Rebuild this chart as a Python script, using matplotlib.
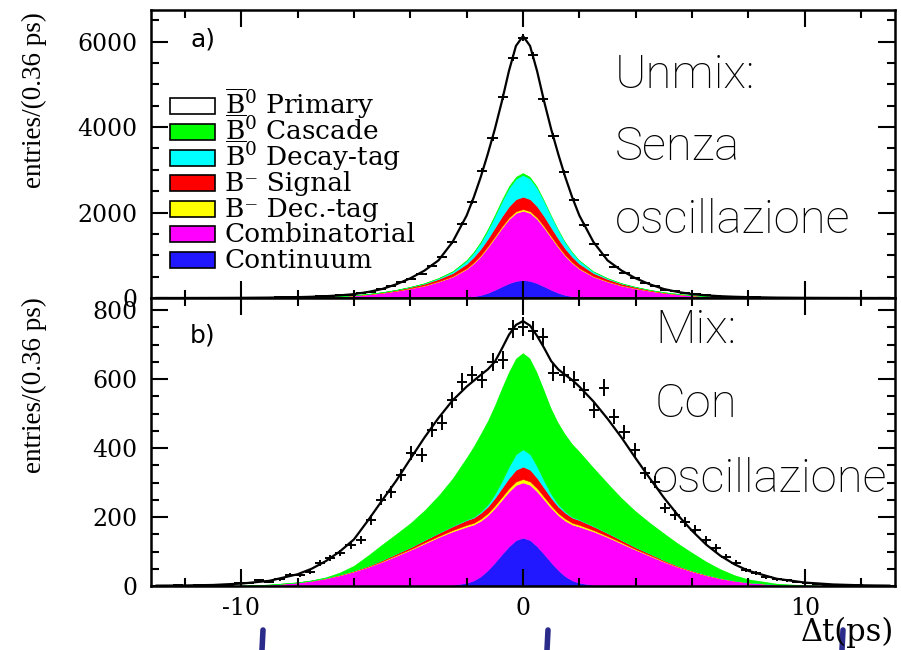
import numpy as np
import matplotlib
matplotlib.use("Agg")
import matplotlib.pyplot as plt
from matplotlib.patches import Rectangle
from matplotlib.lines import Line2D
from matplotlib.ticker import MultipleLocator

# ---------------- data ----------------
# model grid (ps)
t_model = [-13, -12, -11, -10, -9, -8, -7.5, -7, -6.5, -6, -5.5, -5, -4.5, -4, -3.5, -3, -2.5, -2,
           -1.75, -1.5, -1.25, -1, -0.75, -0.5, -0.25, 0, 0.25, 0.5, 0.75, 1, 1.25, 1.5, 1.75, 2,
           2.5, 3, 3.5, 4, 4.5, 5, 5.5, 6, 6.5, 7, 7.5, 8, 9, 10, 11, 12, 13]

# ---- panel a) Unmix ----
top_continuum = [0, 0, 0, 0, 0, 0.1, 0.2, 0.3, 0.5, 0.7, 1, 1.5, 2, 3, 5, 7, 12, 25, 40, 70, 120, 190, 270, 345, 400,
                 420,
                 400, 345, 270, 190, 120, 70, 40, 25, 12, 7, 5, 3, 2, 1.5, 1, 0.7, 0.5, 0.3, 0.2, 0.1, 0, 0, 0, 0, 0]
top_combinatorial = [0.3, 0.6, 1.3, 2.6, 5.5, 12.5, 18.5, 27, 40, 58, 85, 119, 164, 221, 284, 375, 485, 655, 775, 910, 1065, 1220, 1370, 1500, 1590,
                     1620,
                     1590, 1500, 1370, 1220, 1065, 910, 775, 655, 485, 375, 284, 221, 164, 119, 85, 58, 40, 27, 18.5, 12.5, 5.5, 2.6, 1.3, 0.6, 0.3]
top_bm_dectag = [0, 0, 0, 0, 0.1, 0.3, 0.5, 0.7, 1, 1.5, 2, 3, 4, 5, 7, 9, 12, 17, 20, 23, 27, 30, 34, 37, 39,
                 40,
                 39, 37, 34, 30, 27, 23, 20, 17, 12, 9, 7, 5, 4, 3, 2, 1.5, 1, 0.7, 0.5, 0.3, 0.1, 0, 0, 0, 0]
top_bm_signal = [0, 0, 0.1, 0.2, 0.4, 1.1, 1.7, 2.6, 4, 6, 9, 13, 19, 27, 38, 52, 72, 103, 124, 148, 175, 205, 235, 262, 283,
                 290,
                 283, 262, 235, 205, 175, 148, 124, 103, 72, 52, 38, 27, 19, 13, 9, 6, 4, 2.6, 1.7, 1.1, 0.4, 0.2, 0.1, 0, 0]
top_b0_dectag = [0, 0, 0, 0, 0, 0.1, 0.1, 0.2, 0.3, 0.5, 1, 1.5, 3, 5, 10, 19, 37, 73, 103, 145, 200, 270, 350, 430, 480,
                 510,
                 480, 430, 350, 270, 200, 145, 103, 73, 37, 19, 10, 5, 3, 1.5, 1, 0.5, 0.3, 0.2, 0.1, 0.1, 0, 0, 0, 0, 0]
top_b0_cascade = [0, 0, 0, 0, 0.1, 0.2, 0.3, 0.5, 0.7, 1, 1.5, 2, 3, 4, 6, 8, 12, 17, 20, 25, 30, 35, 41, 45, 48,
                  50,
                  48, 45, 41, 35, 30, 25, 20, 17, 12, 8, 6, 4, 3, 2, 1.5, 1, 0.7, 0.5, 0.3, 0.2, 0.1, 0, 0, 0, 0]
top_fit = [0.5, 1, 2.2, 4.5, 9, 20, 29, 42, 62, 90, 140, 210, 320, 460, 640, 880, 1310, 1930, 2350, 2830, 3370, 3950, 4600, 5310, 5900,
           6130,
           5900, 5310, 4600, 3950, 3370, 2830, 2350, 1930, 1310, 880, 640, 460, 320, 210, 140, 90, 62, 42, 29, 20, 9, 4.5, 2.2, 1, 0.5]
# data, bins of 0.36 ps, centres -12.96 ... 12.96
top_data = [0, 1, 0, 1, 2, 1, 3, 4, 4, 5, 8, 8, 14, 15, 22, 26, 39, 46, 65, 80, 115, 145, 205, 270, 370, 450, 565, 760, 970, 1300,
            1740, 2250, 2980, 3740, 4700, 5610,
            6090,
            5680, 4660, 3790, 2940, 2290, 1710, 1270, 995, 735, 580, 470, 355, 280, 195, 155, 108, 86, 60, 50, 35,
            30, 19, 18, 11, 10, 6, 7, 5, 3, 2, 2, 1, 1, 1, 0, 1]

# ---- panel b) Mix ----
bot_continuum = [0, 0, 0, 0, 0, 0, 0, 0, 0.1, 0.1, 0.2, 0.3, 0.4, 0.6, 1, 1.5, 3, 9, 16, 28, 46, 68, 92, 115, 133,
                 140,
                 133, 115, 92, 68, 46, 28, 16, 9, 3, 1.5, 1, 0.6, 0.4, 0.3, 0.2, 0.1, 0.1, 0, 0, 0, 0, 0, 0, 0, 0]
bot_combinatorial = [0.1, 0.2, 0.5, 1.5, 4, 10, 15, 22, 31, 42, 55, 70, 87, 104, 122, 140, 155, 163, 162, 161, 159, 158, 158, 159, 160,
                     160,
                     160, 159, 158, 158, 159, 161, 162, 163, 155, 140, 122, 104, 87, 70, 55, 42, 31, 22, 15, 10, 4, 1.5, 0.5, 0.2, 0.1]
bot_bm_dectag = [0, 0, 0, 0, 0.1, 0.2, 0.3, 0.5, 0.7, 1, 1, 1.5, 2, 2, 3, 3, 4, 5, 5, 6, 6, 7, 8, 9, 10,
                 10,
                 10, 9, 8, 7, 6, 6, 5, 5, 4, 3, 3, 2, 2, 1.5, 1, 1, 0.7, 0.5, 0.3, 0.2, 0.1, 0, 0, 0, 0]
bot_bm_signal = [0, 0, 0, 0.1, 0.2, 0.5, 0.7, 1, 1.5, 2, 2.5, 3.5, 4.5, 5.5, 7, 9, 11, 14, 15, 17, 19, 22, 26, 30, 34,
                 36,
                 34, 30, 26, 22, 19, 17, 15, 14, 11, 9, 7, 5.5, 4.5, 3.5, 2.5, 2, 1.5, 1, 0.7, 0.5, 0.2, 0.1, 0, 0, 0]
bot_b0_dectag = [0, 0, 0, 0, 0, 0, 0, 0, 0, 0, 0, 0, 0.1, 0.2, 0.3, 0.5, 1, 1.5, 2, 3.5, 6, 11, 20, 33, 45,
                 50,
                 45, 33, 20, 11, 6, 3.5, 2, 1.5, 1, 0.5, 0.3, 0.2, 0.1, 0, 0, 0, 0, 0, 0, 0, 0, 0, 0, 0, 0]
bot_b0_cascade = [0, 0, 0, 0, 0.2, 0.5, 1, 2, 6, 14, 30, 45, 57, 70, 86, 108, 138, 180, 205, 226, 243, 258, 270, 275, 278,
                  280,
                  278, 274, 265, 250, 238, 225, 212, 198, 170, 145, 122, 105, 90, 78, 65, 52, 38, 26, 16, 9, 3, 1, 0.3, 0, 0]
bot_fit = [1, 1.5, 3, 7, 15, 34, 50, 72, 100, 135, 190, 248, 305, 368, 430, 487, 538, 578, 595, 612, 628, 650, 688, 728, 757,
           768,
           755, 725, 690, 652, 628, 612, 597, 578, 535, 485, 430, 370, 312, 256, 205, 160, 120, 88, 63, 44, 21, 10, 4.5, 2, 1]
bot_data = [1, 0, 2, 1, 3, 2, 3, 3, 8, 9, 17, 12, 20, 32, 32, 41, 67, 81, 96, 119, 134, 192, 250, 273, 322, 386, 380, 453, 473,
            540, 592, 612, 598, 650, 656, 745,
            752,
            740, 722, 618, 612, 598, 569, 511, 575, 491, 447, 395, 328, 302, 226, 206, 186, 163, 134, 110, 84, 67, 46,
            38, 26, 20, 17, 11, 9, 6, 4, 3, 3, 2, 1, 1, 0]

bin_width = 0.36
n_bins_side = 36

legend_labels = [r"$\overline{\mathrm{B}}^{0}$ Primary", r"$\overline{\mathrm{B}}^{0}$ Cascade",
                 r"$\overline{\mathrm{B}}^{0}$ Decay-tag", "B\u207b Signal", "B\u207b Dec.-tag",
                 "Combinatorial", "Continuum"]
legend_colors = ["white", "#00ff00", "#00ffff", "#ff0000", "#ffff00", "#ff00ff", "#2218ff"]

top_note = ["Unmix:", "Senza", "oscillazione"]
bot_note = ["Mix:", "Con", "oscillazione"]

# ---------------- figure ----------------
plt.rcParams['mathtext.fontset'] = 'dejavuserif'
plt.rcParams['axes.unicode_minus'] = False

W, H = 901, 650
fig = plt.figure(figsize=(W / 100, H / 100), dpi=100)


def fx(px):
    return px / W


def fy(py):
    return 1 - py / H


L, R = 151, 895
ax_top = fig.add_axes([fx(L), fy(298), fx(R) - fx(L), fy(10) - fy(298)])
ax_bot = fig.add_axes([fx(L), fy(586), fx(R) - fx(L), fy(298) - fy(586)])

t = np.array(t_model, dtype=float)
t_bins = np.arange(-n_bins_side, n_bins_side + 1) * bin_width

# stacking order bottom -> top
stack_colors = ["#2218ff", "#ff00ff", "#ffff00", "#ff0000", "#00ffff", "#00ff00"]


def draw_panel(ax, comps, fit, data):
    base = np.zeros_like(t)
    for vals, col in zip(comps, stack_colors):
        top = base + np.asarray(vals, dtype=float)
        ax.fill_between(t, base, top, facecolor=col, edgecolor=col, lw=0.3, zorder=1)
        base = top
    fitv = np.asarray(fit, dtype=float)
    ax.fill_between(t, base, fitv, facecolor="white", lw=0, zorder=1)
    ax.plot(t, fitv, color="k", lw=1.6, zorder=3)
    d = np.asarray(data, dtype=float)
    ax.errorbar(t_bins, d, xerr=bin_width / 2, yerr=np.sqrt(d), fmt="none",
                ecolor="k", elinewidth=1.4, capsize=0, zorder=4)


draw_panel(ax_top, [top_continuum, top_combinatorial, top_bm_dectag, top_bm_signal,
                    top_b0_dectag, top_b0_cascade], top_fit, top_data)
draw_panel(ax_bot, [bot_continuum, bot_combinatorial, bot_bm_dectag, bot_bm_signal,
                    bot_b0_dectag, bot_b0_cascade], bot_fit, bot_data)

ax_top.set_ylim(0, 6740)
ax_top.yaxis.set_major_locator(MultipleLocator(2000))
ax_top.yaxis.set_minor_locator(MultipleLocator(500))
ax_bot.set_ylim(0, 835)
ax_bot.yaxis.set_major_locator(MultipleLocator(200))
ax_bot.yaxis.set_minor_locator(MultipleLocator(50))

for ax in (ax_top, ax_bot):
    ax.set_xlim(-13.2, 13.2)
    ax.xaxis.set_major_locator(MultipleLocator(10))
    ax.xaxis.set_minor_locator(MultipleLocator(2))
    ax.tick_params(which="both", direction="in", top=True, right=True, width=1.5,
                   colors="k", labelsize=17, labelfontfamily="DejaVu Serif")
    ax.tick_params(which="major", length=12)
    ax.tick_params(which="minor", length=6)
    ax.tick_params(axis="y", pad=10)
    ax.tick_params(axis="x", pad=8)
    for s in ax.spines.values():
        s.set_linewidth(1.8)
ax_top.tick_params(labelbottom=False)

# axis titles
fig.text(fx(34), fy(12), "entries/(0.36 ps)", rotation=90, ha="center", va="top",
         fontsize=19.5, family="Liberation Serif")
fig.text(fx(34), fy(297), "entries/(0.36 ps)", rotation=90, ha="center", va="top",
         fontsize=19.5, family="Liberation Serif")
fig.text(fx(894), fy(641), "\u0394t(ps)", ha="right", va="baseline", fontsize=22,
         family="DejaVu Serif")

# panel tags
fig.text(fx(190), fy(47), "a)", fontsize=18, family="DejaVu Sans", va="baseline")
fig.text(fx(190), fy(343), "b)", fontsize=18, family="DejaVu Sans", va="baseline")

# legend (drawn by hand, ROOT style)
row_c = [106, 132, 158, 183, 209, 234, 260]
for yc, lab, col in zip(row_c, legend_labels, legend_colors):
    fig.add_artist(Rectangle((fx(170), fy(yc + 8)), fx(215) - fx(170), fy(yc - 8) - fy(yc + 8),
                             transform=fig.transFigure, facecolor=col, edgecolor="k", lw=1.2))
    fig.text(fx(225), fy(yc + 8), lab, fontsize=19, family="DejaVu Serif", va="baseline", ha="left")

# annotations
for s, yb in zip(top_note, [88, 160, 233]):
    fig.text(fx(615), fy(yb), s, fontsize=34, family="Roboto", fontweight="light",
             va="baseline", ha="left")
for s, yb, xl in zip(bot_note, [343, 417, 492], [655, 655, 652]):
    fig.text(fx(xl), fy(yb), s, fontsize=34, family="Roboto", fontweight="light",
             va="baseline", ha="left")

# cropped slide-title fragments at the bottom edge
for xp in (263, 548, 843):
    fig.add_artist(Line2D([fx(xp), fx(xp - 1)], [fy(630), fy(650)], transform=fig.transFigure,
                          color="#2b2b8c", lw=4, solid_capstyle="round"))

fig.savefig("out.png", dpi=100)
